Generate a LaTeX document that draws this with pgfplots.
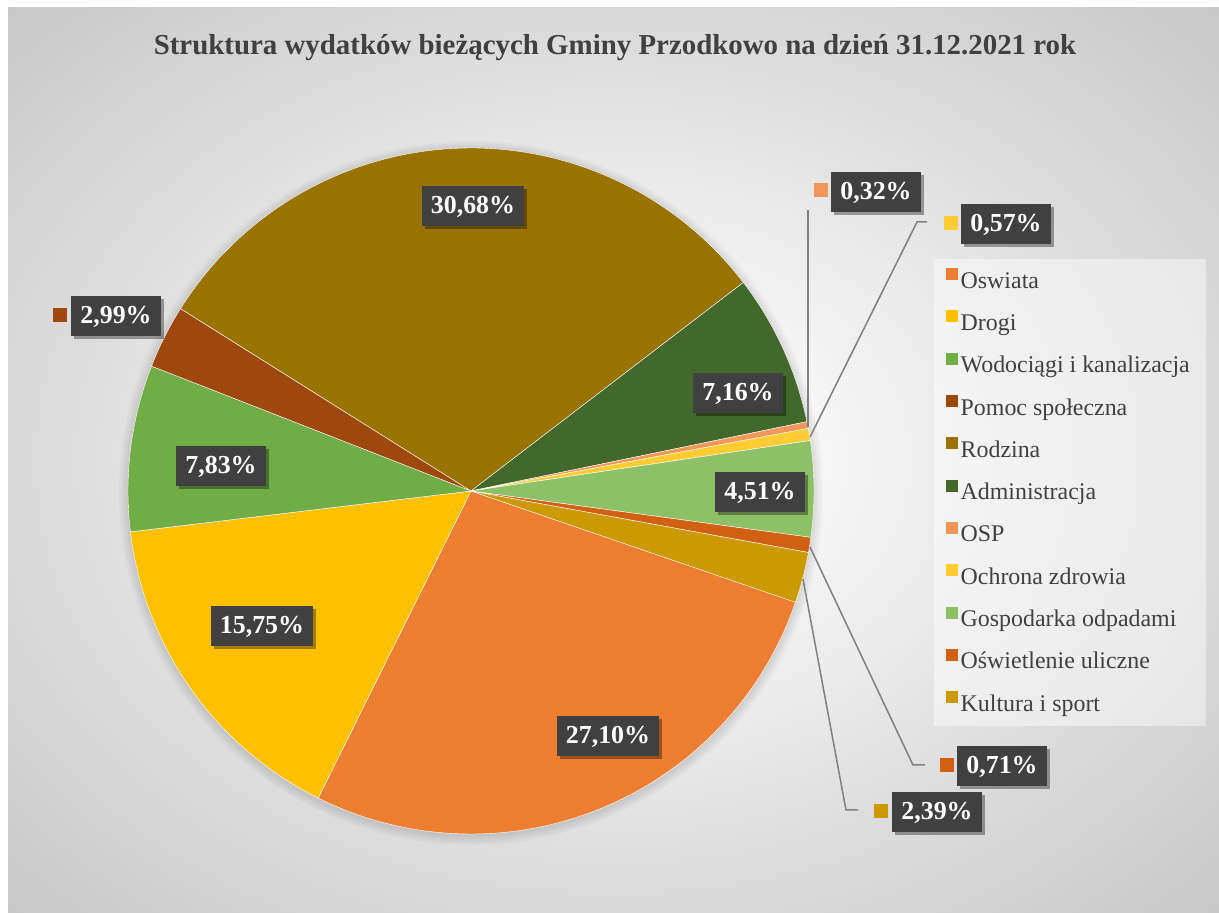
\documentclass[border=0pt]{standalone}
\usepackage{pgfplots}
\pgfplotsset{compat=1.18}
\usepackage{fontspec}
\setmainfont{Liberation Serif}
\usetikzlibrary{shadows}
\definecolor{cOsw}{HTML}{ED7D31}
\definecolor{cDro}{HTML}{FFC000}
\definecolor{cWod}{HTML}{70AD47}
\definecolor{cPom}{HTML}{9E480E}
\definecolor{cRod}{HTML}{997300}
\definecolor{cAdm}{HTML}{43682B}
\definecolor{cOSP}{HTML}{F1975A}
\definecolor{cOch}{HTML}{FFCD33}
\definecolor{cGos}{HTML}{8CC168}
\definecolor{cOsl}{HTML}{D26012}
\definecolor{cKul}{HTML}{CC9A00}
\definecolor{txt}{HTML}{404040}
\definecolor{lbl}{HTML}{404040}
\definecolor{lead}{HTML}{808080}
\pgfdeclareradialshading{bgshade}{\pgfpoint{0bp}{0bp}}{color(0bp)=(white); color(8bp)=(white!97!black); color(25bp)=(white!85!black); color(36bp)=(white!78!black); color(50bp)=(white!78!black)}
\begin{document}
\begin{tikzpicture}[
  lab/.style={fill=lbl, text=white, font=\fontsize{26}{30}\selectfont\bfseries,
    inner xsep=9bp, inner ysep=0bp, minimum height=40bp, text height=18bp, text depth=2bp,
    drop shadow={shadow xshift=3bp, shadow yshift=-3bp, opacity=0.35, fill=black}},
  key/.style={minimum size=14bp, inner sep=0bp},
  leader/.style={draw=lead, line width=1.5bp}]
\useasboundingbox (0,0) rectangle (1219bp,913bp);
\fill[white] (0,0) rectangle (1219bp,913bp);
\shade[shading=bgshade] (8bp,0bp) rectangle (1219bp,905bp);
% title
\node[font=\fontsize{29}{33}\selectfont\bfseries, text=txt] at (615bp,865bp)
  {Struktura wydatków bieżących Gminy Przodkowo na dzień 31.12.2021 rok};
% legend background
\fill[white, opacity=0.45] (934bp,187bp) rectangle (1206bp,654bp);
% soft pie shadow
\foreach \r in {344,346,348,350,352} {\fill[black, opacity=0.025] (471bp,420bp) circle[radius=\r bp];}
\begin{axis}[
  at={(471bp,422bp)}, anchor=origin,
  x=343bp, y=343bp,
  xmin=-1.05, xmax=1.05, ymin=-1.05, ymax=1.05,
  hide axis, clip=false,
  legend style={at={(1.1594,0.8096)}, anchor=north west, draw=none, fill=none,
    inner sep=0bp, font=\fontsize{24}{28}\selectfont, text=txt, row sep=17.3bp,
    nodes={inner xsep=2.5bp, inner ysep=0bp, text height=17bp, text depth=5bp}},
  legend cell align=left,
  legend image code/.code={\fill[#1, draw=none] (0bp,2bp) rectangle (12bp,14bp);},
]
\gdef\cum{-18.9}
\foreach \v/\col/\nam in {27.10/cOsw/Oswiata, 15.75/cDro/Drogi, 7.83/cWod/{Wodociągi i kanalizacja},
  2.99/cPom/{Pomoc społeczna}, 30.68/cRod/Rodzina, 7.16/cAdm/Administracja, 0.32/cOSP/OSP,
  0.57/cOch/{Ochrona zdrowia}, 4.51/cGos/{Gospodarka odpadami}, 0.71/cOsl/{Oświetlenie uliczne},
  2.39/cKul/{Kultura i sport}} {
  \pgfmathsetmacro\angB{\cum-3.6*\v}
  \edef\tmp{\noexpand\addplot[fill=\col, draw=white, line width=0.4bp, domain=\angB:\cum, samples=91]
     ({cos(x)},{sin(x)}) -- (0,0) -- cycle;
     \noexpand\addlegendentry{\nam}}
  \tmp
  \global\let\cum\angB
}
\end{axis}
% leader lines
\draw[leader] (808bp,703bp) -- (808bp,486bp);
\draw[leader] (927bp,691bp) -- (917bp,691bp) -- (810bp,476bp);
\draw[leader] (810bp,366bp) -- (913bp,148bp) -- (925bp,148bp);
\draw[leader] (803bp,334bp) -- (846bp,103bp) -- (858bp,103bp);
% data labels
\node[lab] at (473bp,707bp) {30,68\%};
\node[lab] at (738bp,520bp) {7,16\%};
\node[lab] at (760bp,421bp) {4,51\%};
\node[lab] at (221bp,447bp) {7,83\%};
\node[lab] at (262bp,287bp) {15,75\%};
\node[lab] at (608bp,177bp) {27,10\%};
\node[lab] at (116bp,597bp) {2,99\%};
\node[key, fill=cPom] at (60bp,597.5bp) {};
\node[lab] at (876bp,721bp) {0,32\%};
\node[key, fill=cOSP] at (821bp,722.5bp) {};
\node[lab] at (1006bp,689bp) {0,57\%};
\node[key, fill=cOch] at (950.5bp,689.5bp) {};
\node[lab] at (1002bp,147bp) {0,71\%};
\node[key, fill=cOsl] at (947bp,148bp) {};
\node[lab] at (937bp,101bp) {2,39\%};
\node[key, fill=cKul] at (881bp,102bp) {};
\end{tikzpicture}
\end{document}
